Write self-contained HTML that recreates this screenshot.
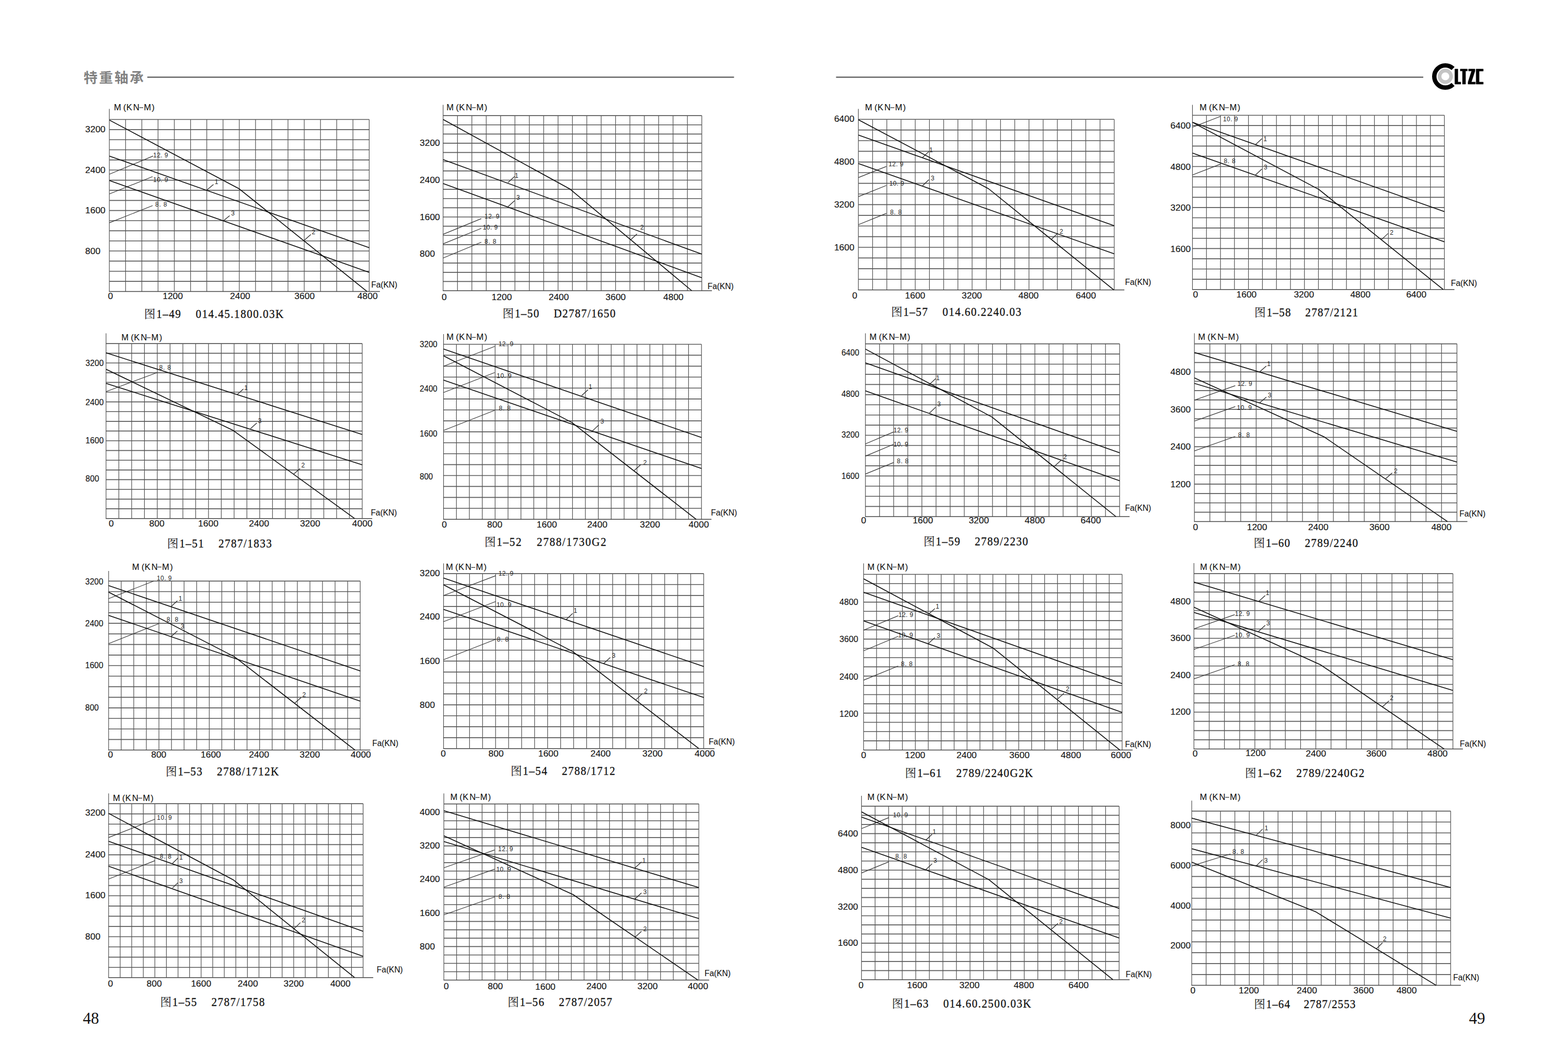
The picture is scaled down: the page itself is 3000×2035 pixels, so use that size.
<!DOCTYPE html>
<html lang="zh"><head><meta charset="utf-8"><title>特重轴承 48-49</title><style>
html,body{margin:0;padding:0;background:#fff}
body{width:3000px;height:2035px;overflow:hidden}
svg{display:block;font-family:"Liberation Sans",sans-serif}
.h{stroke:#5a5a5a;stroke-width:1.65;fill:none}
.v{stroke:#565656;stroke-width:1.25;fill:none}
.a{stroke:#444;stroke-width:1.5;fill:none}
.t{stroke:#333;stroke-width:1.15;fill:none}
.q{stroke:#2a2a2a;stroke-width:1.3;fill:none}
.y{stroke:#4a4a4a;stroke-width:1.15;fill:none}
.c{stroke:#0a0a0a;stroke-width:1.6;fill:none;stroke-linejoin:round}
text{white-space:pre}
.l{font-size:16.5px;fill:#111;stroke:#111;stroke-width:.12}
.g{}
.s{font-size:12px;fill:#222}
.m{text-anchor:middle}
.d{stroke:#222;stroke-width:1.2;fill:none}
.k{font-family:"Liberation Serif",serif;font-size:23.5px;fill:#111;stroke:#111;stroke-width:.3}
.p{font-family:"Liberation Serif",serif;font-size:31px;fill:#111}
.z{font-family:"Liberation Serif","Noto Serif CJK SC",serif;font-size:21.6px;fill:#111}
.hd{font-family:"Liberation Sans","Noto Sans CJK SC",sans-serif;font-size:26.6px;font-weight:bold;fill:#828282;letter-spacing:2.8px}
</style></head><body>
<svg width="3000" height="2035" viewBox="0 0 3000 2035">
<text class="hd" x="160.1" y="157.9">特重轴承</text>
<path d="M281.8 147.6H1404.4M1599.6 147.6H2723.1" stroke="#5a5a5a" stroke-width="2.3" fill="none"/>
<circle cx="2765.3" cy="146" r="11" fill="none" stroke="#c4c4c4" stroke-width="6.8"/>
<path d="M2780.1 131.1A21.2 21.2 0 1 0 2780.1 161.6" fill="none" stroke="#000" stroke-width="8.4"/>
<polygon fill="#000" stroke="#000" stroke-width="0.6" stroke-linejoin="round" points="2783.5,132 2789.3,132 2789.3,156.9 2794.9,156.9 2794.9,160.9 2783.5,160.9"/>
<polygon fill="#000" stroke="#000" stroke-width="0.6" stroke-linejoin="round" points="2793.9,132 2807.4,132 2807.4,135.7 2804,135.7 2804,160.9 2798.1,160.9 2798.1,135.7 2793.9,135.7"/>
<polygon fill="#000" stroke="#000" stroke-width="0.6" stroke-linejoin="round" points="2809.8,132 2822,132 2822,135.8 2815.1,156.9 2822.8,156.9 2822.8,160.9 2808.8,160.9 2808.8,157.1 2815.6,135.8 2809.8,135.8"/>
<polygon fill="#000" stroke="#000" stroke-width="0.6" stroke-linejoin="round" points="2824.2,132 2837.9,132 2837.9,136 2830,136 2830,157 2837.9,157 2837.9,160.9 2824.2,160.9"/>
<g>
<path class="h" d="M209.2 228.5H706.4M209.2 247.8H706.4M209.2 267.2H706.4M209.2 286.5H706.4M209.2 305.9H706.4M209.2 325.2H706.4M209.2 344.6H706.4M209.2 363.9H706.4M209.2 383.3H706.4M209.2 402.6H706.4M209.2 422H706.4M209.2 441.3H706.4M209.2 460.7H706.4M209.2 480H706.4M209.2 499.4H706.4M209.2 518.7H706.4M209.2 538.1H706.4"/>
<path class="v" d="M240.3 228.5V557.4M271.4 228.5V557.4M302.4 228.5V557.4M333.5 228.5V557.4M364.6 228.5V557.4M395.6 228.5V557.4M426.7 228.5V557.4M457.8 228.5V557.4M488.9 228.5V557.4M519.9 228.5V557.4M551 228.5V557.4M582.1 228.5V557.4M613.2 228.5V557.4M644.2 228.5V557.4M675.3 228.5V557.4M706.4 228.5V557.4"/>
<path class="y" d="M209.2 208.2V557.4"/>
<path class="a" d="M208.6 557.4H726.9"/>
<path class="t" d="M209.2 333.3L292.9 298.4M209.2 371L292 337.8M209.2 426.1L292 393.2"/>
<path class="q" d="M395.7 363.5L408.5 352.7M426.8 422.7L439.4 412.4M581.9 459.8L594.7 448.4"/>
<polyline class="c" points="209.2,229.6 457.9,361.3 702.1,557.4"/>
<polyline class="c" points="209.2,298.4 706.4,473.8"/>
<polyline class="c" points="209.2,345.3 706.4,520.9"/>
<text class="l" x="217.9" y="211" dx="0 4.2 0.5 2">M(KN</text>
<path class="d" d="M266.5 205.9h7.5"/>
<text class="l" x="275.2" y="211" dx="0 1.4">M)</text>
<text class="l" lengthAdjust="spacingAndGlyphs" x="163" y="252.6" textLength="38.8">3200</text>
<text class="l" lengthAdjust="spacingAndGlyphs" x="163" y="330.6" textLength="38.8">2400</text>
<text class="l" lengthAdjust="spacingAndGlyphs" x="163" y="408" textLength="38.8">1600</text>
<text class="l" lengthAdjust="spacingAndGlyphs" x="163" y="485.9" textLength="29.1">800</text>
<text class="l" lengthAdjust="spacingAndGlyphs" x="206.6" y="572.1" textLength="9.7">0</text>
<text class="l" lengthAdjust="spacingAndGlyphs" x="311.2" y="572.1" textLength="38.8">1200</text>
<text class="l" lengthAdjust="spacingAndGlyphs" x="440" y="572.1" textLength="38.8">2400</text>
<text class="l" lengthAdjust="spacingAndGlyphs" x="563.3" y="572.1" textLength="38.8">3600</text>
<text class="l" lengthAdjust="spacingAndGlyphs" x="683.8" y="572.1" textLength="38.8">4800</text>
<text class="l" lengthAdjust="spacingAndGlyphs" x="710.2" y="549.9" textLength="50">Fa(KN)</text>
<text class="s" x="293.1" y="300.7" textLength="28.4">12. 9</text>
<text class="s" x="293.1" y="348.4" textLength="28.4">10. 9</text>
<text class="s" x="297.1" y="395.2" textLength="22.3">8. 8</text>
<text class="s m" x="414.2" y="351.6">1</text>
<text class="s m" x="445.7" y="412.1">3</text>
<text class="s m" x="599.9" y="447.5">2</text>
<text class="z" x="275.8" y="608.1">图</text>
<text class="k" transform="translate(299.2 608.1) scale(0.9 1)" textLength="270.2">1–49    014.45.1800.03K</text>
</g>
<g>
<path class="h" d="M847.8 221.1H1342.7M847.8 238.7H1342.7M847.8 256.3H1342.7M847.8 273.9H1342.7M847.8 291.6H1342.7M847.8 309.2H1342.7M847.8 326.8H1342.7M847.8 344.5H1342.7M847.8 362.1H1342.7M847.8 379.7H1342.7M847.8 397.4H1342.7M847.8 415H1342.7M847.8 432.6H1342.7M847.8 450.2H1342.7M847.8 467.9H1342.7M847.8 485.5H1342.7M847.8 503.1H1342.7M847.8 520.8H1342.7M847.8 538.4H1342.7"/>
<path class="v" d="M875.3 221.1V556M902.8 221.1V556M930.3 221.1V556M957.8 221.1V556M985.2 221.1V556M1012.7 221.1V556M1040.2 221.1V556M1067.7 221.1V556M1095.2 221.1V556M1122.7 221.1V556M1150.2 221.1V556M1177.7 221.1V556M1205.2 221.1V556M1232.7 221.1V556M1260.2 221.1V556M1287.7 221.1V556M1315.2 221.1V556M1342.7 221.1V556"/>
<path class="y" d="M847.8 200.5V556"/>
<path class="a" d="M847.2 556H1362.1"/>
<path class="t" d="M847.8 448.1L920.9 418.1M847.8 466.4L920.9 436.7M847.8 493.5L920.9 463.2"/>
<path class="q" d="M972 349L984.6 337.6M972 395.2L984.6 383.8M1206.2 458.9L1218.7 447.5"/>
<polyline class="c" points="847.8,228.5 1090.8,361.8 1323.5,556"/>
<polyline class="c" points="847.8,305.3 1342.7,486.1"/>
<polyline class="c" points="847.8,351 1342.7,531.2"/>
<text class="l" x="854.2" y="211" dx="0 4.2 0.5 2">M(KN</text>
<path class="d" d="M902.8 205.9h7.5"/>
<text class="l" x="911.5" y="211" dx="0 1.4">M)</text>
<text class="l" lengthAdjust="spacingAndGlyphs" x="803" y="278.9" textLength="38.8">3200</text>
<text class="l" lengthAdjust="spacingAndGlyphs" x="803" y="350" textLength="38.8">2400</text>
<text class="l" lengthAdjust="spacingAndGlyphs" x="803" y="420.5" textLength="38.8">1600</text>
<text class="l" lengthAdjust="spacingAndGlyphs" x="803" y="491.1" textLength="29.1">800</text>
<text class="l" lengthAdjust="spacingAndGlyphs" x="844.9" y="574.4" textLength="9.7">0</text>
<text class="l" lengthAdjust="spacingAndGlyphs" x="940.6" y="574.4" textLength="38.8">1200</text>
<text class="l" lengthAdjust="spacingAndGlyphs" x="1049.7" y="574.4" textLength="38.8">2400</text>
<text class="l" lengthAdjust="spacingAndGlyphs" x="1158.5" y="574.4" textLength="38.8">3600</text>
<text class="l" lengthAdjust="spacingAndGlyphs" x="1269" y="574.4" textLength="38.8">4800</text>
<text class="l" lengthAdjust="spacingAndGlyphs" x="1353.7" y="553.3" textLength="50">Fa(KN)</text>
<text class="s" x="927.1" y="417.8" textLength="28.4">12. 9</text>
<text class="s" x="923.7" y="438.7" textLength="28.4">10. 9</text>
<text class="s" x="927.1" y="465.8" textLength="22.3">8. 8</text>
<text class="s m" x="988.3" y="339.6">1</text>
<text class="s m" x="991.4" y="382.4">3</text>
<text class="s m" x="1228.4" y="439.2">2</text>
<text class="z" x="961.5" y="606.7">图</text>
<text class="k" transform="translate(984.9 606.7) scale(0.9 1)" textLength="214.1">1–50    D2787/1650</text>
</g>
<g>
<path class="h" d="M202.9 657.1H693M202.9 675.6H693M202.9 694.2H693M202.9 712.8H693M202.9 731.4H693M202.9 750H693M202.9 768.6H693M202.9 787.2H693M202.9 805.8H693M202.9 824.4H693M202.9 843H693M202.9 861.6H693M202.9 880.2H693M202.9 898.8H693M202.9 917.4H693M202.9 936H693M202.9 954.6H693M202.9 973.1H693"/>
<path class="v" d="M227.4 657.1V991.7M251.9 657.1V991.7M276.4 657.1V991.7M300.9 657.1V991.7M325.4 657.1V991.7M349.9 657.1V991.7M374.4 657.1V991.7M398.9 657.1V991.7M423.4 657.1V991.7M447.9 657.1V991.7M472.4 657.1V991.7M496.9 657.1V991.7M521.4 657.1V991.7M545.9 657.1V991.7M570.5 657.1V991.7M595 657.1V991.7M619.5 657.1V991.7M644 657.1V991.7M668.5 657.1V991.7M693 657.1V991.7"/>
<path class="y" d="M202.9 637.6V991.7"/>
<path class="a" d="M202.3 991.7H712.1"/>
<path class="t" d="M202.9 749L300.9 712.5"/>
<path class="q" d="M453.7 754.7L465.6 743.9M479.4 819.8L491.3 809M562.2 906.6L574.2 896.1"/>
<polyline class="c" points="202.9,674.8 693,831"/>
<polyline class="c" points="202.9,706.2 446.2,823.3 678.4,991.7"/>
<polyline class="c" points="202.9,733.3 693,888.9"/>
<text class="l" x="232.2" y="651" dx="0 4.2 0.5 2">M(KN</text>
<path class="d" d="M280.8 645.9h7.5"/>
<text class="l" x="289.5" y="651" dx="0 1.4">M)</text>
<text class="l" lengthAdjust="spacingAndGlyphs" x="163.6" y="700.3" textLength="34.8">3200</text>
<text class="l" lengthAdjust="spacingAndGlyphs" x="163.6" y="774.6" textLength="34.8">2400</text>
<text class="l" lengthAdjust="spacingAndGlyphs" x="163.6" y="848.2" textLength="34.8">1600</text>
<text class="l" lengthAdjust="spacingAndGlyphs" x="163.6" y="921.1" textLength="26.1">800</text>
<text class="l" lengthAdjust="spacingAndGlyphs" x="208.1" y="1007.3" textLength="9.7">0</text>
<text class="l" lengthAdjust="spacingAndGlyphs" x="285.5" y="1007.3" textLength="29.1">800</text>
<text class="l" lengthAdjust="spacingAndGlyphs" x="379.1" y="1007.3" textLength="38.8">1600</text>
<text class="l" lengthAdjust="spacingAndGlyphs" x="476.2" y="1007.3" textLength="38.8">2400</text>
<text class="l" lengthAdjust="spacingAndGlyphs" x="573.9" y="1007.3" textLength="38.8">3200</text>
<text class="l" lengthAdjust="spacingAndGlyphs" x="673.8" y="1007.3" textLength="38.8">4000</text>
<text class="l" lengthAdjust="spacingAndGlyphs" x="709.4" y="985.6" textLength="50">Fa(KN)</text>
<text class="s" x="304.6" y="706.5" textLength="22.3">8. 8</text>
<text class="s m" x="470.5" y="745.9">1</text>
<text class="s m" x="497.1" y="808.7">3</text>
<text class="s m" x="579.9" y="894.4">2</text>
<text class="z" x="319.8" y="1047.3">图</text>
<text class="k" transform="translate(343.2 1047.3) scale(0.9 1)" textLength="196.3">1–51    2787/1833</text>
</g>
<g>
<path class="h" d="M848.6 658.5H1342.1M848.6 679.4H1342.1M848.6 700.3H1342.1M848.6 721.2H1342.1M848.6 742.2H1342.1M848.6 763.1H1342.1M848.6 784H1342.1M848.6 804.9H1342.1M848.6 825.8H1342.1M848.6 846.7H1342.1M848.6 867.7H1342.1M848.6 888.6H1342.1M848.6 909.5H1342.1M848.6 930.4H1342.1M848.6 951.3H1342.1M848.6 972.2H1342.1"/>
<path class="v" d="M873.3 658.5V993.2M898 658.5V993.2M922.7 658.5V993.2M947.3 658.5V993.2M972 658.5V993.2M996.7 658.5V993.2M1021.3 658.5V993.2M1046 658.5V993.2M1070.7 658.5V993.2M1095.4 658.5V993.2M1120 658.5V993.2M1144.7 658.5V993.2M1169.4 658.5V993.2M1194.1 658.5V993.2M1218.7 658.5V993.2M1243.4 658.5V993.2M1268.1 658.5V993.2M1292.8 658.5V993.2M1317.4 658.5V993.2M1342.1 658.5V993.2"/>
<path class="y" d="M848.6 639.1V993.2"/>
<path class="a" d="M848 993.2H1361.2"/>
<path class="t" d="M848.6 700.5L946.6 662.5M848.6 750.7L946.6 712.5M848.6 823.3L946.6 784.7"/>
<path class="q" d="M1112.8 756.7L1125.1 745.3M1133.6 824.1L1145.6 812.7M1213.6 899.8L1225.6 888.9"/>
<polyline class="c" points="848.6,667.6 1342.1,836.7"/>
<polyline class="c" points="848.6,680.5 1094.2,808.1 1331.8,993.2"/>
<polyline class="c" points="848.6,727 1342.1,896.1"/>
<text class="l" x="854.2" y="650.4" dx="0 4.2 0.5 2">M(KN</text>
<path class="d" d="M902.8 645.3h7.5"/>
<text class="l" x="911.5" y="650.4" dx="0 1.4">M)</text>
<text class="l" lengthAdjust="spacingAndGlyphs" x="803" y="663.5" textLength="33.8">3200</text>
<text class="l" lengthAdjust="spacingAndGlyphs" x="803" y="749.2" textLength="33.8">2400</text>
<text class="l" lengthAdjust="spacingAndGlyphs" x="803" y="834.8" textLength="33.8">1600</text>
<text class="l" lengthAdjust="spacingAndGlyphs" x="803" y="916.8" textLength="25.3">800</text>
<text class="l" lengthAdjust="spacingAndGlyphs" x="845.2" y="1009.3" textLength="9.7">0</text>
<text class="l" lengthAdjust="spacingAndGlyphs" x="932" y="1009.3" textLength="29.1">800</text>
<text class="l" lengthAdjust="spacingAndGlyphs" x="1026.8" y="1009.3" textLength="38.8">1600</text>
<text class="l" lengthAdjust="spacingAndGlyphs" x="1123.4" y="1009.3" textLength="38.8">2400</text>
<text class="l" lengthAdjust="spacingAndGlyphs" x="1224.2" y="1009.3" textLength="38.8">3200</text>
<text class="l" lengthAdjust="spacingAndGlyphs" x="1317.6" y="1009.3" textLength="38.8">4000</text>
<text class="l" lengthAdjust="spacingAndGlyphs" x="1360.2" y="985.6" textLength="50">Fa(KN)</text>
<text class="s" x="953.7" y="661.6" textLength="28.4">12. 9</text>
<text class="s" x="950.3" y="723" textLength="28.4">10. 9</text>
<text class="s" x="954.6" y="785.3" textLength="22.3">8. 8</text>
<text class="s m" x="1129.6" y="743.9">1</text>
<text class="s m" x="1152.2" y="809.5">3</text>
<text class="s m" x="1234.2" y="888.6">2</text>
<text class="z" x="927" y="1043.8">图</text>
<text class="k" transform="translate(950.3 1043.8) scale(0.9 1)" textLength="232.8">1–52    2788/1730G2</text>
</g>
<g>
<path class="h" d="M207.8 1111.3H689.2M207.8 1131.5H689.2M207.8 1151.7H689.2M207.8 1171.9H689.2M207.8 1192.1H689.2M207.8 1212.4H689.2M207.8 1232.6H689.2M207.8 1252.8H689.2M207.8 1273H689.2M207.8 1293.2H689.2M207.8 1313.4H689.2M207.8 1333.6H689.2M207.8 1353.8H689.2M207.8 1374H689.2M207.8 1394.2H689.2M207.8 1414.4H689.2"/>
<path class="v" d="M231.9 1111.3V1434.6M255.9 1111.3V1434.6M280 1111.3V1434.6M304.1 1111.3V1434.6M328.1 1111.3V1434.6M352.2 1111.3V1434.6M376.3 1111.3V1434.6M400.4 1111.3V1434.6M424.4 1111.3V1434.6M448.5 1111.3V1434.6M472.6 1111.3V1434.6M496.7 1111.3V1434.6M520.7 1111.3V1434.6M544.8 1111.3V1434.6M568.9 1111.3V1434.6M593 1111.3V1434.6M617 1111.3V1434.6M641.1 1111.3V1434.6M665.2 1111.3V1434.6M689.2 1111.3V1434.6"/>
<path class="y" d="M207.8 1091.9V1434.6"/>
<path class="a" d="M207.2 1434.6H708.4"/>
<path class="t" d="M207.8 1145L294.3 1111.3M207.8 1231L304 1192.7"/>
<path class="q" d="M328 1159.6L339.4 1149M328 1217L339.4 1206.7M564.2 1344.6L576.2 1334.1"/>
<polyline class="c" points="207.8,1119.9 689.2,1283.2"/>
<polyline class="c" points="207.8,1132.5 448.5,1256.1 679.3,1434.6"/>
<polyline class="c" points="207.8,1177 689.2,1340.9"/>
<text class="l" x="252.8" y="1089.6" dx="0 4.2 0.5 2">M(KN</text>
<path class="d" d="M301.4 1084.5h7.5"/>
<text class="l" x="310.1" y="1089.6" dx="0 1.4">M)</text>
<text class="l" lengthAdjust="spacingAndGlyphs" x="163" y="1117.5" textLength="34.6">3200</text>
<text class="l" lengthAdjust="spacingAndGlyphs" x="163" y="1197.7" textLength="34.6">2400</text>
<text class="l" lengthAdjust="spacingAndGlyphs" x="163" y="1278.2" textLength="34.6">1600</text>
<text class="l" lengthAdjust="spacingAndGlyphs" x="163" y="1358.8" textLength="26">800</text>
<text class="l" lengthAdjust="spacingAndGlyphs" x="206.6" y="1449.3" textLength="9.7">0</text>
<text class="l" lengthAdjust="spacingAndGlyphs" x="289.2" y="1449.3" textLength="29.1">800</text>
<text class="l" lengthAdjust="spacingAndGlyphs" x="384" y="1449.3" textLength="38.8">1600</text>
<text class="l" lengthAdjust="spacingAndGlyphs" x="476.2" y="1449.3" textLength="38.8">2400</text>
<text class="l" lengthAdjust="spacingAndGlyphs" x="573.3" y="1449.3" textLength="38.8">3200</text>
<text class="l" lengthAdjust="spacingAndGlyphs" x="671" y="1449.3" textLength="38.8">4000</text>
<text class="l" lengthAdjust="spacingAndGlyphs" x="712.2" y="1427" textLength="50">Fa(KN)</text>
<text class="s" x="300" y="1109.6" textLength="28.4">10. 9</text>
<text class="s" x="318.8" y="1188.7" textLength="22.3">8. 8</text>
<text class="s m" x="345.1" y="1148.7">1</text>
<text class="s m" x="349.1" y="1202.1">3</text>
<text class="s m" x="581.9" y="1332.9">2</text>
<text class="z" x="316.9" y="1483">图</text>
<text class="k" transform="translate(340.3 1483) scale(0.9 1)" textLength="214.4">1–53    2788/1712K</text>
</g>
<g>
<path class="h" d="M848.6 1097.1H1346.4M848.6 1118H1346.4M848.6 1138.9H1346.4M848.6 1159.8H1346.4M848.6 1180.7H1346.4M848.6 1201.6H1346.4M848.6 1222.6H1346.4M848.6 1243.5H1346.4M848.6 1264.4H1346.4M848.6 1285.3H1346.4M848.6 1306.2H1346.4M848.6 1327.1H1346.4M848.6 1348.1H1346.4M848.6 1369H1346.4M848.6 1389.9H1346.4M848.6 1410.8H1346.4"/>
<path class="v" d="M873.5 1097.1V1431.7M898.4 1097.1V1431.7M923.3 1097.1V1431.7M948.2 1097.1V1431.7M973.1 1097.1V1431.7M998 1097.1V1431.7M1022.8 1097.1V1431.7M1047.7 1097.1V1431.7M1072.6 1097.1V1431.7M1097.5 1097.1V1431.7M1122.4 1097.1V1431.7M1147.3 1097.1V1431.7M1172.2 1097.1V1431.7M1197.1 1097.1V1431.7M1221.9 1097.1V1431.7M1246.8 1097.1V1431.7M1271.7 1097.1V1431.7M1296.6 1097.1V1431.7M1321.5 1097.1V1431.7M1346.4 1097.1V1431.7"/>
<path class="y" d="M848.6 1077.6V1431.7"/>
<path class="a" d="M848 1431.7H1366.9"/>
<path class="t" d="M848.6 1139L948.3 1101.1M848.6 1189L948.3 1150.5M848.6 1261.8L948.3 1222.7"/>
<path class="q" d="M1083.4 1184.7L1095.7 1173.3M1155.1 1269L1167.6 1257.5M1217 1338.1L1229 1326.6"/>
<polyline class="c" points="848.6,1105.6 1346.4,1274.7"/>
<polyline class="c" points="848.6,1118.5 1095.7,1246.1 1337,1431.7"/>
<polyline class="c" points="848.6,1165.6 1346.4,1334.1"/>
<text class="l" x="853.1" y="1090.4" dx="0 4.2 0.5 2">M(KN</text>
<path class="d" d="M901.7 1085.3h7.5"/>
<text class="l" x="910.4" y="1090.4" dx="0 1.4">M)</text>
<text class="l" lengthAdjust="spacingAndGlyphs" x="803" y="1102.1" textLength="38.8">3200</text>
<text class="l" lengthAdjust="spacingAndGlyphs" x="803" y="1185.4" textLength="38.8">2400</text>
<text class="l" lengthAdjust="spacingAndGlyphs" x="803" y="1269.7" textLength="38.8">1600</text>
<text class="l" lengthAdjust="spacingAndGlyphs" x="803" y="1353.9" textLength="29.1">800</text>
<text class="l" lengthAdjust="spacingAndGlyphs" x="843.2" y="1447.3" textLength="9.7">0</text>
<text class="l" lengthAdjust="spacingAndGlyphs" x="934.6" y="1447.3" textLength="29.1">800</text>
<text class="l" lengthAdjust="spacingAndGlyphs" x="1029.7" y="1447.3" textLength="38.8">1600</text>
<text class="l" lengthAdjust="spacingAndGlyphs" x="1129.7" y="1447.3" textLength="38.8">2400</text>
<text class="l" lengthAdjust="spacingAndGlyphs" x="1229" y="1447.3" textLength="38.8">3200</text>
<text class="l" lengthAdjust="spacingAndGlyphs" x="1329" y="1447.3" textLength="38.8">4000</text>
<text class="l" lengthAdjust="spacingAndGlyphs" x="1355.9" y="1424.2" textLength="50">Fa(KN)</text>
<text class="s" x="953.7" y="1100.8" textLength="28.4">12. 9</text>
<text class="s" x="950" y="1161" textLength="28.4">10. 9</text>
<text class="s" x="950.8" y="1226.7" textLength="22.3">8. 8</text>
<text class="s m" x="1100.8" y="1172.4">1</text>
<text class="s m" x="1174.2" y="1258.1">3</text>
<text class="s m" x="1235.6" y="1325.8">2</text>
<text class="z" x="976.9" y="1482.4">图</text>
<text class="k" transform="translate(1000.3 1482.4) scale(0.9 1)" textLength="196">1–54    2788/1712</text>
</g>
<g>
<path class="h" d="M207.8 1537.1H694.7M207.8 1556.6H694.7M207.8 1576.2H694.7M207.8 1595.8H694.7M207.8 1615.3H694.7M207.8 1634.9H694.7M207.8 1654.5H694.7M207.8 1674H694.7M207.8 1693.6H694.7M207.8 1713.2H694.7M207.8 1732.8H694.7M207.8 1752.3H694.7M207.8 1771.9H694.7M207.8 1791.5H694.7M207.8 1811H694.7M207.8 1830.6H694.7M207.8 1850.2H694.7"/>
<path class="v" d="M229.9 1537.1V1869.7M252 1537.1V1869.7M274.2 1537.1V1869.7M296.3 1537.1V1869.7M318.4 1537.1V1869.7M340.6 1537.1V1869.7M362.7 1537.1V1869.7M384.8 1537.1V1869.7M407 1537.1V1869.7M429.1 1537.1V1869.7M451.2 1537.1V1869.7M473.4 1537.1V1869.7M495.5 1537.1V1869.7M517.6 1537.1V1869.7M539.8 1537.1V1869.7M561.9 1537.1V1869.7M584 1537.1V1869.7M606.1 1537.1V1869.7M628.3 1537.1V1869.7M650.4 1537.1V1869.7M672.5 1537.1V1869.7M694.7 1537.1V1869.7"/>
<path class="y" d="M207.8 1517.6V1869.7"/>
<path class="a" d="M207.2 1869.7H714.1"/>
<path class="t" d="M207.8 1601.9L296.3 1566.8M207.8 1681.3L296.3 1646.1"/>
<path class="q" d="M330 1651.3L340.6 1641M330 1698.4L340.6 1688.1M562.7 1776.1L574.7 1764.6"/>
<polyline class="c" points="207.8,1555.6 446.2,1682.7 678.4,1869.7"/>
<polyline class="c" points="207.8,1609 694.7,1781.2"/>
<polyline class="c" points="207.8,1656.7 694.7,1828.9"/>
<text class="l" x="215.9" y="1531.6" dx="0 4.2 0.5 2">M(KN</text>
<path class="d" d="M264.5 1526.5h7.5"/>
<text class="l" x="273.2" y="1531.6" dx="0 1.4">M)</text>
<text class="l" lengthAdjust="spacingAndGlyphs" x="163" y="1560.3" textLength="38.8">3200</text>
<text class="l" lengthAdjust="spacingAndGlyphs" x="163" y="1639.7" textLength="38.8">2400</text>
<text class="l" lengthAdjust="spacingAndGlyphs" x="163" y="1718.2" textLength="38.8">1600</text>
<text class="l" lengthAdjust="spacingAndGlyphs" x="163" y="1797.3" textLength="29.1">800</text>
<text class="l" lengthAdjust="spacingAndGlyphs" x="206.6" y="1886.7" textLength="9.7">0</text>
<text class="l" lengthAdjust="spacingAndGlyphs" x="280.6" y="1886.7" textLength="29.1">800</text>
<text class="l" lengthAdjust="spacingAndGlyphs" x="365.4" y="1886.7" textLength="38.8">1600</text>
<text class="l" lengthAdjust="spacingAndGlyphs" x="454.8" y="1886.7" textLength="38.8">2400</text>
<text class="l" lengthAdjust="spacingAndGlyphs" x="542.5" y="1886.7" textLength="38.8">3200</text>
<text class="l" lengthAdjust="spacingAndGlyphs" x="631.9" y="1886.7" textLength="38.8">4000</text>
<text class="l" lengthAdjust="spacingAndGlyphs" x="720.8" y="1859.9" textLength="50">Fa(KN)</text>
<text class="s" x="300.3" y="1567.9" textLength="28.4">10. 9</text>
<text class="s" x="305.7" y="1642.1" textLength="22.3">8. 8</text>
<text class="s m" x="346.3" y="1643.6">1</text>
<text class="s m" x="346.3" y="1688.7">3</text>
<text class="s m" x="580.7" y="1764.4">2</text>
<text class="z" x="306.4" y="1923.8">图</text>
<text class="k" transform="translate(329.8 1923.8) scale(0.9 1)" textLength="196">1–55    2787/1758</text>
</g>
<g>
<path class="h" d="M849.2 1537.6H1337M849.2 1553.7H1337M849.2 1569.7H1337M849.2 1585.8H1337M849.2 1601.8H1337M849.2 1617.9H1337M849.2 1633.9H1337M849.2 1649.9H1337M849.2 1666H1337M849.2 1682H1337M849.2 1698.1H1337M849.2 1714.1H1337M849.2 1730.2H1337M849.2 1746.2H1337M849.2 1762.3H1337M849.2 1778.3H1337M849.2 1794.4H1337M849.2 1810.4H1337M849.2 1826.5H1337M849.2 1842.5H1337M849.2 1858.5H1337"/>
<path class="v" d="M873.6 1537.6V1874.6M898 1537.6V1874.6M922.4 1537.6V1874.6M946.8 1537.6V1874.6M971.1 1537.6V1874.6M995.5 1537.6V1874.6M1019.9 1537.6V1874.6M1044.3 1537.6V1874.6M1068.7 1537.6V1874.6M1093.1 1537.6V1874.6M1117.5 1537.6V1874.6M1141.9 1537.6V1874.6M1166.2 1537.6V1874.6M1190.6 1537.6V1874.6M1215 1537.6V1874.6M1239.4 1537.6V1874.6M1263.8 1537.6V1874.6M1288.2 1537.6V1874.6M1312.6 1537.6V1874.6M1337 1537.6V1874.6"/>
<path class="y" d="M849.2 1517.6V1874.6"/>
<path class="a" d="M848.6 1874.6H1356.9"/>
<path class="t" d="M849.2 1659.8L946.3 1625.6M849.2 1696.7L946.3 1662.4M849.2 1749.8L946.3 1715.5"/>
<path class="q" d="M1215 1659.8L1227.3 1648.4M1215 1719.2L1227.3 1707.8M1215 1792.6L1227.3 1781.2"/>
<polyline class="c" points="849.2,1550.5 1337,1697.5"/>
<polyline class="c" points="849.2,1598.4 1096.5,1711 1335.5,1874.6"/>
<polyline class="c" points="849.2,1609.6 1337,1756.7"/>
<text class="l" x="861.4" y="1530.4" dx="0 4.2 0.5 2">M(KN</text>
<path class="d" d="M910 1525.3h7.5"/>
<text class="l" x="918.7" y="1530.4" dx="0 1.4">M)</text>
<text class="l" lengthAdjust="spacingAndGlyphs" x="803" y="1558.9" textLength="38.8">4000</text>
<text class="l" lengthAdjust="spacingAndGlyphs" x="803" y="1623.2" textLength="38.8">3200</text>
<text class="l" lengthAdjust="spacingAndGlyphs" x="803" y="1687.4" textLength="38.8">2400</text>
<text class="l" lengthAdjust="spacingAndGlyphs" x="803" y="1751.7" textLength="38.8">1600</text>
<text class="l" lengthAdjust="spacingAndGlyphs" x="803" y="1815.9" textLength="29.1">800</text>
<text class="l" lengthAdjust="spacingAndGlyphs" x="848.9" y="1891.5" textLength="9.7">0</text>
<text class="l" lengthAdjust="spacingAndGlyphs" x="933.2" y="1891.5" textLength="29.1">800</text>
<text class="l" lengthAdjust="spacingAndGlyphs" x="1024" y="1893" textLength="38.8">1600</text>
<text class="l" lengthAdjust="spacingAndGlyphs" x="1121.9" y="1891.5" textLength="38.8">2400</text>
<text class="l" lengthAdjust="spacingAndGlyphs" x="1219.6" y="1891.5" textLength="38.8">3200</text>
<text class="l" lengthAdjust="spacingAndGlyphs" x="1316.1" y="1891.5" textLength="38.8">4000</text>
<text class="l" lengthAdjust="spacingAndGlyphs" x="1348" y="1866.5" textLength="50">Fa(KN)</text>
<text class="s" x="953.1" y="1627.9" textLength="28.4">12. 9</text>
<text class="s" x="949.4" y="1667.3" textLength="28.4">10. 9</text>
<text class="s" x="953.7" y="1719.2" textLength="22.3">8. 8</text>
<text class="s m" x="1232.2" y="1650.1">1</text>
<text class="s m" x="1234.2" y="1710.1">3</text>
<text class="s m" x="1234.2" y="1780.9">2</text>
<text class="z" x="971.2" y="1923.8">图</text>
<text class="k" transform="translate(994.6 1923.8) scale(0.9 1)" textLength="196">1–56    2787/2057</text>
</g>
<g>
<path class="h" d="M1642.3 228.2H2131.8M1642.3 248.6H2131.8M1642.3 269H2131.8M1642.3 289.4H2131.8M1642.3 309.8H2131.8M1642.3 330.2H2131.8M1642.3 350.6H2131.8M1642.3 371H2131.8M1642.3 391.4H2131.8M1642.3 411.8H2131.8M1642.3 432.2H2131.8M1642.3 452.6H2131.8M1642.3 473H2131.8M1642.3 493.4H2131.8M1642.3 513.8H2131.8M1642.3 534.2H2131.8"/>
<path class="v" d="M1669.5 228.2V554.6M1696.7 228.2V554.6M1723.9 228.2V554.6M1751.1 228.2V554.6M1778.3 228.2V554.6M1805.5 228.2V554.6M1832.7 228.2V554.6M1859.9 228.2V554.6M1887.1 228.2V554.6M1914.3 228.2V554.6M1941.5 228.2V554.6M1968.7 228.2V554.6M1995.8 228.2V554.6M2023 228.2V554.6M2050.2 228.2V554.6M2077.4 228.2V554.6M2104.6 228.2V554.6M2131.8 228.2V554.6"/>
<path class="y" d="M1642.3 208.2V554.6"/>
<path class="a" d="M1641.7 554.6H2151.2"/>
<path class="t" d="M1642.3 339.6L1695.7 318.4M1642.3 376.1L1695.7 354.7M1642.3 429.8L1695.7 408.1"/>
<path class="q" d="M1765.1 301.3L1777.1 289.9M1765.1 355.3L1777.1 343.8M2011.9 457.5L2023.6 446.1"/>
<polyline class="c" points="1642.3,229 1891.4,361 2131.2,554.6"/>
<polyline class="c" points="1642.3,258.2 2131.8,431.8"/>
<polyline class="c" points="1642.3,312.7 2131.8,485.5"/>
<text class="l" x="1655.1" y="211" dx="0 4.2 0.5 2">M(KN</text>
<path class="d" d="M1703.7 205.9h7.5"/>
<text class="l" x="1712.4" y="211" dx="0 1.4">M)</text>
<text class="l" lengthAdjust="spacingAndGlyphs" x="1595.9" y="232.6" textLength="38.8">6400</text>
<text class="l" lengthAdjust="spacingAndGlyphs" x="1595.9" y="314.9" textLength="38.8">4800</text>
<text class="l" lengthAdjust="spacingAndGlyphs" x="1595.9" y="396.8" textLength="38.8">3200</text>
<text class="l" lengthAdjust="spacingAndGlyphs" x="1595.9" y="478.8" textLength="38.8">1600</text>
<text class="l" lengthAdjust="spacingAndGlyphs" x="1630.4" y="570.7" textLength="9.7">0</text>
<text class="l" lengthAdjust="spacingAndGlyphs" x="1731.5" y="570.7" textLength="38.8">1600</text>
<text class="l" lengthAdjust="spacingAndGlyphs" x="1840" y="570.7" textLength="38.8">3200</text>
<text class="l" lengthAdjust="spacingAndGlyphs" x="1948.5" y="570.7" textLength="38.8">4800</text>
<text class="l" lengthAdjust="spacingAndGlyphs" x="2058.2" y="570.7" textLength="38.8">6400</text>
<text class="l" lengthAdjust="spacingAndGlyphs" x="2152.5" y="545" textLength="50">Fa(KN)</text>
<text class="s" x="1700" y="318.1" textLength="28.4">12. 9</text>
<text class="s" x="1701.4" y="355" textLength="28.4">10. 9</text>
<text class="s" x="1702.9" y="409.5" textLength="22.3">8. 8</text>
<text class="s m" x="1781.4" y="291">1</text>
<text class="s m" x="1784.3" y="345.3">3</text>
<text class="s m" x="2030.7" y="446.7">2</text>
<text class="z" x="1705" y="604.4">图</text>
<text class="k" transform="translate(1728.3 604.4) scale(0.9 1)" textLength="250.6">1–57    014.60.2240.03</text>
</g>
<g>
<path class="h" d="M2281.5 220.5H2763.5M2281.5 240.1H2763.5M2281.5 259.7H2763.5M2281.5 279.3H2763.5M2281.5 298.9H2763.5M2281.5 318.5H2763.5M2281.5 338.1H2763.5M2281.5 357.7H2763.5M2281.5 377.3H2763.5M2281.5 396.9H2763.5M2281.5 416.5H2763.5M2281.5 436.1H2763.5M2281.5 455.7H2763.5M2281.5 475.3H2763.5M2281.5 494.9H2763.5M2281.5 514.5H2763.5M2281.5 534.1H2763.5"/>
<path class="v" d="M2308.3 220.5V553.7M2335.1 220.5V553.7M2361.8 220.5V553.7M2388.6 220.5V553.7M2415.4 220.5V553.7M2442.2 220.5V553.7M2469 220.5V553.7M2495.7 220.5V553.7M2522.5 220.5V553.7M2549.3 220.5V553.7M2576.1 220.5V553.7M2602.9 220.5V553.7M2629.6 220.5V553.7M2656.4 220.5V553.7M2683.2 220.5V553.7M2710 220.5V553.7M2736.7 220.5V553.7M2763.5 220.5V553.7"/>
<path class="y" d="M2281.5 200.5V553.7"/>
<path class="a" d="M2280.9 553.7H2782.7"/>
<path class="t" d="M2281.5 243.3L2335.2 222.5M2281.5 334.7L2335.2 313.9"/>
<path class="q" d="M2402 276.7L2414.3 265.3M2402 334.7L2414.3 323.3M2643.3 458.1L2655.6 446.6"/>
<polyline class="c" points="2281.5,233.9 2763.5,404.7"/>
<polyline class="c" points="2281.5,233.9 2523.4,362.4 2761.2,553.7"/>
<polyline class="c" points="2281.5,292.7 2763.5,462.6"/>
<text class="l" x="2295.1" y="211" dx="0 4.2 0.5 2">M(KN</text>
<path class="d" d="M2343.7 205.9h7.5"/>
<text class="l" x="2352.4" y="211" dx="0 1.4">M)</text>
<text class="l" lengthAdjust="spacingAndGlyphs" x="2239.3" y="246.3" textLength="38.8">6400</text>
<text class="l" lengthAdjust="spacingAndGlyphs" x="2239.3" y="324.6" textLength="38.8">4800</text>
<text class="l" lengthAdjust="spacingAndGlyphs" x="2239.3" y="403.1" textLength="38.8">3200</text>
<text class="l" lengthAdjust="spacingAndGlyphs" x="2239.3" y="481.6" textLength="38.8">1600</text>
<text class="l" lengthAdjust="spacingAndGlyphs" x="2282.4" y="568.7" textLength="9.7">0</text>
<text class="l" lengthAdjust="spacingAndGlyphs" x="2365.5" y="568.7" textLength="38.8">1600</text>
<text class="l" lengthAdjust="spacingAndGlyphs" x="2475.4" y="568.7" textLength="38.8">3200</text>
<text class="l" lengthAdjust="spacingAndGlyphs" x="2583.4" y="568.7" textLength="38.8">4800</text>
<text class="l" lengthAdjust="spacingAndGlyphs" x="2690.4" y="568.7" textLength="38.8">6400</text>
<text class="l" lengthAdjust="spacingAndGlyphs" x="2776" y="547" textLength="50">Fa(KN)</text>
<text class="s" x="2340" y="231.6" textLength="28.4">10. 9</text>
<text class="s" x="2341.4" y="312.1" textLength="22.3">8. 8</text>
<text class="s m" x="2420.6" y="269.6">1</text>
<text class="s m" x="2421.4" y="323.6">3</text>
<text class="s m" x="2662.7" y="449.2">2</text>
<text class="z" x="2400.1" y="605.3">图</text>
<text class="k" transform="translate(2423.5 605.3) scale(0.9 1)" textLength="194.1">1–58    2787/2121</text>
</g>
<g>
<path class="h" d="M1655.8 657.6H2142.1M1655.8 677.1H2142.1M1655.8 696.5H2142.1M1655.8 715.9H2142.1M1655.8 735.4H2142.1M1655.8 754.8H2142.1M1655.8 774.2H2142.1M1655.8 793.7H2142.1M1655.8 813.1H2142.1M1655.8 832.5H2142.1M1655.8 852H2142.1M1655.8 871.4H2142.1M1655.8 890.8H2142.1M1655.8 910.3H2142.1M1655.8 929.7H2142.1M1655.8 949.2H2142.1M1655.8 968.6H2142.1"/>
<path class="v" d="M1682.8 657.6V988M1709.8 657.6V988M1736.8 657.6V988M1763.8 657.6V988M1790.9 657.6V988M1817.9 657.6V988M1844.9 657.6V988M1871.9 657.6V988M1898.9 657.6V988M1925.9 657.6V988M1953 657.6V988M1980 657.6V988M2007 657.6V988M2034 657.6V988M2061 657.6V988M2088.1 657.6V988M2115.1 657.6V988M2142.1 657.6V988"/>
<path class="y" d="M1655.8 637.6V988"/>
<path class="a" d="M1655.2 988H2161.2"/>
<path class="t" d="M1655.8 849L1709.7 826.1M1655.8 872.4L1709.7 849.8M1655.8 906.6L1709.7 884.6"/>
<path class="q" d="M1778 735.6L1790 724.2M1778 790.4L1790 779M2017.6 891.8L2029.9 880.4"/>
<polyline class="c" points="1655.8,667.6 1897.9,797.6 2135,988"/>
<polyline class="c" points="1655.8,693.9 2142.1,866.1"/>
<polyline class="c" points="1655.8,747.6 2142.1,919.5"/>
<text class="l" x="1663.6" y="650.4" dx="0 4.2 0.5 2">M(KN</text>
<path class="d" d="M1712.2 645.3h7.5"/>
<text class="l" x="1720.9" y="650.4" dx="0 1.4">M)</text>
<text class="l" lengthAdjust="spacingAndGlyphs" x="1610.1" y="679.8" textLength="34">6400</text>
<text class="l" lengthAdjust="spacingAndGlyphs" x="1610.1" y="758.9" textLength="34">4800</text>
<text class="l" lengthAdjust="spacingAndGlyphs" x="1610.1" y="837.4" textLength="34">3200</text>
<text class="l" lengthAdjust="spacingAndGlyphs" x="1610.1" y="915.9" textLength="34">1600</text>
<text class="l" lengthAdjust="spacingAndGlyphs" x="1647.5" y="1001" textLength="9.7">0</text>
<text class="l" lengthAdjust="spacingAndGlyphs" x="1746.3" y="1001" textLength="38.8">1600</text>
<text class="l" lengthAdjust="spacingAndGlyphs" x="1853.4" y="1001" textLength="38.8">3200</text>
<text class="l" lengthAdjust="spacingAndGlyphs" x="1960.5" y="1001" textLength="38.8">4800</text>
<text class="l" lengthAdjust="spacingAndGlyphs" x="2067.6" y="1001" textLength="38.8">6400</text>
<text class="l" lengthAdjust="spacingAndGlyphs" x="2152.5" y="976.5" textLength="50">Fa(KN)</text>
<text class="s" x="1709.4" y="826.7" textLength="28.4">12. 9</text>
<text class="s" x="1709.4" y="853.5" textLength="28.4">10. 9</text>
<text class="s" x="1716" y="886.4" textLength="22.3">8. 8</text>
<text class="s m" x="1794.3" y="726.7">1</text>
<text class="s m" x="1796.6" y="777.3">3</text>
<text class="s m" x="2037.9" y="878.1">2</text>
<text class="z" x="1766.9" y="1043">图</text>
<text class="k" transform="translate(1790.3 1043) scale(0.9 1)" textLength="196">1–59    2789/2230</text>
</g>
<g>
<path class="h" d="M2285.2 657.6H2787.5M2285.2 675.5H2787.5M2285.2 693.4H2787.5M2285.2 711.3H2787.5M2285.2 729.2H2787.5M2285.2 747.1H2787.5M2285.2 764.9H2787.5M2285.2 782.8H2787.5M2285.2 800.7H2787.5M2285.2 818.6H2787.5M2285.2 836.5H2787.5M2285.2 854.4H2787.5M2285.2 872.3H2787.5M2285.2 890.1H2787.5M2285.2 908H2787.5M2285.2 925.9H2787.5M2285.2 943.8H2787.5M2285.2 961.7H2787.5M2285.2 979.6H2787.5"/>
<path class="v" d="M2314.8 657.6V997.4M2344.3 657.6V997.4M2373.8 657.6V997.4M2403.4 657.6V997.4M2432.9 657.6V997.4M2462.5 657.6V997.4M2492 657.6V997.4M2521.6 657.6V997.4M2551.1 657.6V997.4M2580.7 657.6V997.4M2610.2 657.6V997.4M2639.8 657.6V997.4M2669.3 657.6V997.4M2698.9 657.6V997.4M2728.4 657.6V997.4M2758 657.6V997.4M2787.5 657.6V997.4"/>
<path class="y" d="M2285.2 637.6V997.4"/>
<path class="a" d="M2284.6 997.4H2807.5"/>
<path class="t" d="M2285.2 765.3L2363.4 737.6M2285.2 805.3L2363.4 777.6M2285.2 862.4L2363.4 834.7"/>
<path class="q" d="M2410 711.3L2422.8 699.9M2410 770.4L2422.8 759.6M2651.3 915.5L2663.6 904.6"/>
<polyline class="c" points="2285.2,674.2 2787.5,825"/>
<polyline class="c" points="2285.2,722.7 2532.8,835.2 2769.2,997.4"/>
<polyline class="c" points="2285.2,733.3 2787.5,883.8"/>
<text class="l" x="2292.2" y="650.4" dx="0 4.2 0.5 2">M(KN</text>
<path class="d" d="M2340.8 645.3h7.5"/>
<text class="l" x="2349.5" y="650.4" dx="0 1.4">M)</text>
<text class="l" lengthAdjust="spacingAndGlyphs" x="2239.3" y="716.9" textLength="38.8">4800</text>
<text class="l" lengthAdjust="spacingAndGlyphs" x="2239.3" y="788.8" textLength="38.8">3600</text>
<text class="l" lengthAdjust="spacingAndGlyphs" x="2239.3" y="860.2" textLength="38.8">2400</text>
<text class="l" lengthAdjust="spacingAndGlyphs" x="2239.3" y="931.6" textLength="38.8">1200</text>
<text class="l" lengthAdjust="spacingAndGlyphs" x="2282.4" y="1014.4" textLength="9.7">0</text>
<text class="l" lengthAdjust="spacingAndGlyphs" x="2385.7" y="1013.5" textLength="38.8">1200</text>
<text class="l" lengthAdjust="spacingAndGlyphs" x="2502.8" y="1014.4" textLength="38.8">2400</text>
<text class="l" lengthAdjust="spacingAndGlyphs" x="2619.9" y="1014.4" textLength="38.8">3600</text>
<text class="l" lengthAdjust="spacingAndGlyphs" x="2738.4" y="1014.4" textLength="38.8">4800</text>
<text class="l" lengthAdjust="spacingAndGlyphs" x="2792.2" y="987.9" textLength="50">Fa(KN)</text>
<text class="s" x="2367.4" y="738.2" textLength="28.4">12. 9</text>
<text class="s" x="2366.6" y="784.4" textLength="28.4">10. 9</text>
<text class="s" x="2368.8" y="835.8" textLength="22.3">8. 8</text>
<text class="s m" x="2427.7" y="700.2">1</text>
<text class="s m" x="2429.1" y="759.6">3</text>
<text class="s m" x="2670.4" y="904.9">2</text>
<text class="z" x="2398.4" y="1045.8">图</text>
<text class="k" transform="translate(2421.7 1045.8) scale(0.9 1)" textLength="196">1–60    2789/2240</text>
</g>
<g>
<path class="h" d="M1652.3 1098.5H2146.9M1652.3 1116.2H2146.9M1652.3 1133.9H2146.9M1652.3 1151.6H2146.9M1652.3 1169.2H2146.9M1652.3 1186.9H2146.9M1652.3 1204.6H2146.9M1652.3 1222.3H2146.9M1652.3 1240H2146.9M1652.3 1257.7H2146.9M1652.3 1275.4H2146.9M1652.3 1293.1H2146.9M1652.3 1310.8H2146.9M1652.3 1328.5H2146.9M1652.3 1346.1H2146.9M1652.3 1363.8H2146.9M1652.3 1381.5H2146.9M1652.3 1399.2H2146.9M1652.3 1416.9H2146.9"/>
<path class="v" d="M1677.1 1098.5V1434.6M1701.8 1098.5V1434.6M1726.5 1098.5V1434.6M1751.3 1098.5V1434.6M1776 1098.5V1434.6M1800.7 1098.5V1434.6M1825.5 1098.5V1434.6M1850.2 1098.5V1434.6M1874.9 1098.5V1434.6M1899.6 1098.5V1434.6M1924.4 1098.5V1434.6M1949.1 1098.5V1434.6M1973.8 1098.5V1434.6M1998.6 1098.5V1434.6M2023.3 1098.5V1434.6M2048 1098.5V1434.6M2072.8 1098.5V1434.6M2097.5 1098.5V1434.6M2122.2 1098.5V1434.6M2146.9 1098.5V1434.6"/>
<path class="y" d="M1652.3 1077.6V1434.6"/>
<path class="a" d="M1651.7 1434.6H2166.9"/>
<path class="t" d="M1652.3 1205.3L1718.6 1177.6M1652.3 1244.7L1718.6 1217M1652.3 1300.9L1718.6 1273.8"/>
<path class="q" d="M1776.6 1174.7L1788.6 1163.9M1776.6 1230.4L1788.6 1219.6M2023.3 1336.9L2035.6 1326.1"/>
<polyline class="c" points="1652.3,1107 1900.5,1239.8 2142.7,1434.6"/>
<polyline class="c" points="1652.3,1132.7 2146.9,1307.5"/>
<polyline class="c" points="1652.3,1187.6 2146.9,1362.6"/>
<text class="l" x="1659.4" y="1089.6" dx="0 4.2 0.5 2">M(KN</text>
<path class="d" d="M1708 1084.5h7.5"/>
<text class="l" x="1716.7" y="1089.6" dx="0 1.4">M)</text>
<text class="l" lengthAdjust="spacingAndGlyphs" x="1605.9" y="1156.9" textLength="36">4800</text>
<text class="l" lengthAdjust="spacingAndGlyphs" x="1605.9" y="1228.3" textLength="36">3600</text>
<text class="l" lengthAdjust="spacingAndGlyphs" x="1605.9" y="1299.7" textLength="36">2400</text>
<text class="l" lengthAdjust="spacingAndGlyphs" x="1605.9" y="1371.1" textLength="36">1200</text>
<text class="l" lengthAdjust="spacingAndGlyphs" x="1647.5" y="1449.5" textLength="9.7">0</text>
<text class="l" lengthAdjust="spacingAndGlyphs" x="1731.5" y="1449.5" textLength="38.8">1200</text>
<text class="l" lengthAdjust="spacingAndGlyphs" x="1830" y="1449.5" textLength="38.8">2400</text>
<text class="l" lengthAdjust="spacingAndGlyphs" x="1931.1" y="1449.5" textLength="38.8">3600</text>
<text class="l" lengthAdjust="spacingAndGlyphs" x="2029.6" y="1449.5" textLength="38.8">4800</text>
<text class="l" lengthAdjust="spacingAndGlyphs" x="2125.3" y="1449.5" textLength="38.8">6000</text>
<text class="l" lengthAdjust="spacingAndGlyphs" x="2152.5" y="1429" textLength="50">Fa(KN)</text>
<text class="s" x="1718.9" y="1180.2" textLength="28.4">12. 9</text>
<text class="s" x="1718.3" y="1218.7" textLength="28.4">10. 9</text>
<text class="s" x="1723.7" y="1274.4" textLength="22.3">8. 8</text>
<text class="s m" x="1793.7" y="1164.4">1</text>
<text class="s m" x="1795.7" y="1220.1">3</text>
<text class="s m" x="2042.7" y="1321.5">2</text>
<text class="z" x="1731.5" y="1485.8">图</text>
<text class="k" transform="translate(1754.9 1485.8) scale(0.9 1)" textLength="245.8">1–61    2789/2240G2K</text>
</g>
<g>
<path class="h" d="M2284.3 1097.1H2779.8M2284.3 1114.7H2779.8M2284.3 1132.4H2779.8M2284.3 1150H2779.8M2284.3 1167.7H2779.8M2284.3 1185.4H2779.8M2284.3 1203H2779.8M2284.3 1220.7H2779.8M2284.3 1238.3H2779.8M2284.3 1256H2779.8M2284.3 1273.7H2779.8M2284.3 1291.3H2779.8M2284.3 1309H2779.8M2284.3 1326.6H2779.8M2284.3 1344.3H2779.8M2284.3 1362H2779.8M2284.3 1379.6H2779.8M2284.3 1397.3H2779.8M2284.3 1414.9H2779.8"/>
<path class="v" d="M2313.5 1097.1V1432.6M2342.6 1097.1V1432.6M2371.8 1097.1V1432.6M2400.9 1097.1V1432.6M2430.1 1097.1V1432.6M2459.2 1097.1V1432.6M2488.4 1097.1V1432.6M2517.5 1097.1V1432.6M2546.6 1097.1V1432.6M2575.8 1097.1V1432.6M2604.9 1097.1V1432.6M2634.1 1097.1V1432.6M2663.2 1097.1V1432.6M2692.4 1097.1V1432.6M2721.5 1097.1V1432.6M2750.7 1097.1V1432.6M2779.8 1097.1V1432.6"/>
<path class="y" d="M2284.3 1077.1V1432.6"/>
<path class="a" d="M2283.7 1432.6H2798.9"/>
<path class="t" d="M2284.3 1202.7L2362.3 1175.6M2284.3 1242.1L2362.3 1215M2284.3 1298.4L2362.3 1271.2"/>
<path class="q" d="M2408 1150.5L2420.6 1139M2408 1207.6L2420.6 1196.1M2645 1351.8L2657.6 1340.4"/>
<polyline class="c" points="2284.3,1113.3 2779.8,1261.8"/>
<polyline class="c" points="2284.3,1161.3 2527.1,1271.8 2763.2,1432.6"/>
<polyline class="c" points="2284.3,1171.3 2779.8,1320.4"/>
<text class="l" x="2295.9" y="1089.6" dx="0 4.2 0.5 2">M(KN</text>
<path class="d" d="M2344.5 1084.5h7.5"/>
<text class="l" x="2353.2" y="1089.6" dx="0 1.4">M)</text>
<text class="l" lengthAdjust="spacingAndGlyphs" x="2239.3" y="1155.5" textLength="38.8">4800</text>
<text class="l" lengthAdjust="spacingAndGlyphs" x="2239.3" y="1226.3" textLength="38.8">3600</text>
<text class="l" lengthAdjust="spacingAndGlyphs" x="2239.3" y="1296.8" textLength="38.8">2400</text>
<text class="l" lengthAdjust="spacingAndGlyphs" x="2239.3" y="1367.3" textLength="38.8">1200</text>
<text class="l" lengthAdjust="spacingAndGlyphs" x="2281.8" y="1446.7" textLength="9.7">0</text>
<text class="l" lengthAdjust="spacingAndGlyphs" x="2382.9" y="1445.8" textLength="38.8">1200</text>
<text class="l" lengthAdjust="spacingAndGlyphs" x="2498.3" y="1446.7" textLength="38.8">2400</text>
<text class="l" lengthAdjust="spacingAndGlyphs" x="2613.9" y="1446.7" textLength="38.8">3600</text>
<text class="l" lengthAdjust="spacingAndGlyphs" x="2731" y="1446.7" textLength="38.8">4800</text>
<text class="l" lengthAdjust="spacingAndGlyphs" x="2793.1" y="1427.9" textLength="50">Fa(KN)</text>
<text class="s" x="2362.8" y="1178.2" textLength="28.4">12. 9</text>
<text class="s" x="2362.8" y="1218.7" textLength="28.4">10. 9</text>
<text class="s" x="2368" y="1274.4" textLength="22.3">8. 8</text>
<text class="s m" x="2425.1" y="1138.2">1</text>
<text class="s m" x="2426" y="1195.9">3</text>
<text class="s m" x="2662.7" y="1338.6">2</text>
<text class="z" x="2382.1" y="1486.1">图</text>
<text class="k" transform="translate(2405.5 1486.1) scale(0.9 1)" textLength="227.7">1–62    2789/2240G2</text>
</g>
<g>
<path class="h" d="M1648.3 1541.9H2141.2M1648.3 1559.4H2141.2M1648.3 1576.8H2141.2M1648.3 1594.3H2141.2M1648.3 1611.8H2141.2M1648.3 1629.2H2141.2M1648.3 1646.7H2141.2M1648.3 1664.2H2141.2M1648.3 1681.6H2141.2M1648.3 1699.1H2141.2M1648.3 1716.6H2141.2M1648.3 1734H2141.2M1648.3 1751.5H2141.2M1648.3 1768.9H2141.2M1648.3 1786.4H2141.2M1648.3 1803.9H2141.2M1648.3 1821.3H2141.2M1648.3 1838.8H2141.2M1648.3 1856.3H2141.2"/>
<path class="v" d="M1674.3 1541.9V1873.7M1700.2 1541.9V1873.7M1726.2 1541.9V1873.7M1752.1 1541.9V1873.7M1778.1 1541.9V1873.7M1804 1541.9V1873.7M1829.9 1541.9V1873.7M1855.9 1541.9V1873.7M1881.8 1541.9V1873.7M1907.8 1541.9V1873.7M1933.7 1541.9V1873.7M1959.6 1541.9V1873.7M1985.6 1541.9V1873.7M2011.5 1541.9V1873.7M2037.5 1541.9V1873.7M2063.4 1541.9V1873.7M2089.4 1541.9V1873.7M2115.3 1541.9V1873.7M2141.2 1541.9V1873.7"/>
<path class="y" d="M1648.3 1521.9V1873.7"/>
<path class="a" d="M1647.7 1873.7H2161.2"/>
<path class="t" d="M1648.3 1584.7L1700.3 1563.9M1648.3 1669.6L1700.3 1648.4"/>
<path class="q" d="M1771.4 1606.7L1783.4 1595.6M1771.4 1663.3L1783.4 1651.9M2011.9 1776.9L2024.2 1766.1"/>
<polyline class="c" points="1648.3,1552.8 1891.9,1682.4 2129.2,1873.7"/>
<polyline class="c" points="1648.3,1562.8 2141.2,1737.5"/>
<polyline class="c" points="1648.3,1620.4 2141.2,1794.1"/>
<text class="l" x="1659.4" y="1530.1" dx="0 4.2 0.5 2">M(KN</text>
<path class="d" d="M1708 1525h7.5"/>
<text class="l" x="1716.7" y="1530.1" dx="0 1.4">M)</text>
<text class="l" lengthAdjust="spacingAndGlyphs" x="1603" y="1599.7" textLength="38.8">6400</text>
<text class="l" lengthAdjust="spacingAndGlyphs" x="1603" y="1669.7" textLength="38.8">4800</text>
<text class="l" lengthAdjust="spacingAndGlyphs" x="1603" y="1739.7" textLength="38.8">3200</text>
<text class="l" lengthAdjust="spacingAndGlyphs" x="1603" y="1809.1" textLength="38.8">1600</text>
<text class="l" lengthAdjust="spacingAndGlyphs" x="1642.4" y="1890.1" textLength="9.7">0</text>
<text class="l" lengthAdjust="spacingAndGlyphs" x="1735.5" y="1889.5" textLength="38.8">1600</text>
<text class="l" lengthAdjust="spacingAndGlyphs" x="1835.4" y="1890.1" textLength="38.8">3200</text>
<text class="l" lengthAdjust="spacingAndGlyphs" x="1939.6" y="1890.1" textLength="38.8">4800</text>
<text class="l" lengthAdjust="spacingAndGlyphs" x="2044.2" y="1890.1" textLength="38.8">6400</text>
<text class="l" lengthAdjust="spacingAndGlyphs" x="2153.7" y="1869.3" textLength="50">Fa(KN)</text>
<text class="s" x="1708.6" y="1563" textLength="28.4">10. 9</text>
<text class="s" x="1712.9" y="1641.6" textLength="22.3">8. 8</text>
<text class="s m" x="1787.7" y="1595">1</text>
<text class="s m" x="1789.4" y="1650.1">3</text>
<text class="s m" x="2029.9" y="1766.7">2</text>
<text class="z" x="1706.4" y="1926.7">图</text>
<text class="k" transform="translate(1729.8 1926.7) scale(0.9 1)" textLength="269.6">1–63    014.60.2500.03K</text>
</g>
<g>
<path class="h" d="M2280.1 1551.3H2775.5M2280.1 1572.2H2775.5M2280.1 1593H2775.5M2280.1 1613.8H2775.5M2280.1 1634.6H2775.5M2280.1 1655.5H2775.5M2280.1 1676.3H2775.5M2280.1 1697.1H2775.5M2280.1 1718H2775.5M2280.1 1738.8H2775.5M2280.1 1759.6H2775.5M2280.1 1780.4H2775.5M2280.1 1801.3H2775.5M2280.1 1822.1H2775.5M2280.1 1842.9H2775.5M2280.1 1863.8H2775.5"/>
<path class="v" d="M2307.6 1551.3V1884.6M2335.1 1551.3V1884.6M2362.6 1551.3V1884.6M2390.2 1551.3V1884.6M2417.7 1551.3V1884.6M2445.2 1551.3V1884.6M2472.7 1551.3V1884.6M2500.3 1551.3V1884.6M2527.8 1551.3V1884.6M2555.3 1551.3V1884.6M2582.8 1551.3V1884.6M2610.4 1551.3V1884.6M2637.9 1551.3V1884.6M2665.4 1551.3V1884.6M2692.9 1551.3V1884.6M2720.5 1551.3V1884.6M2748 1551.3V1884.6M2775.5 1551.3V1884.6"/>
<path class="y" d="M2280.1 1531.3V1884.6"/>
<path class="a" d="M2279.5 1884.6H2794.9"/>
<path class="t" d="M2280.1 1656.1L2354.3 1633.3"/>
<path class="q" d="M2403.4 1597.6L2415.7 1585.6M2403.4 1656.1L2415.7 1644.1M2632.7 1815.2L2645 1803.2"/>
<polyline class="c" points="2280.1,1564.8 2775.5,1697.5"/>
<polyline class="c" points="2280.1,1623.3 2775.5,1756.1"/>
<polyline class="c" points="2280.1,1649 2517.7,1744.1 2747.8,1884.6"/>
<text class="l" x="2295.6" y="1530.1" dx="0 4.2 0.5 2">M(KN</text>
<path class="d" d="M2344.2 1525h7.5"/>
<text class="l" x="2352.9" y="1530.1" dx="0 1.4">M)</text>
<text class="l" lengthAdjust="spacingAndGlyphs" x="2239.3" y="1584" textLength="38.8">8000</text>
<text class="l" lengthAdjust="spacingAndGlyphs" x="2239.3" y="1661.1" textLength="38.8">6000</text>
<text class="l" lengthAdjust="spacingAndGlyphs" x="2239.3" y="1737.7" textLength="38.8">4000</text>
<text class="l" lengthAdjust="spacingAndGlyphs" x="2239.3" y="1813.9" textLength="38.8">2000</text>
<text class="l" lengthAdjust="spacingAndGlyphs" x="2277.5" y="1899.5" textLength="9.7">0</text>
<text class="l" lengthAdjust="spacingAndGlyphs" x="2370" y="1899.5" textLength="38.8">1200</text>
<text class="l" lengthAdjust="spacingAndGlyphs" x="2481.1" y="1899.5" textLength="38.8">2400</text>
<text class="l" lengthAdjust="spacingAndGlyphs" x="2589.6" y="1899.5" textLength="38.8">3600</text>
<text class="l" lengthAdjust="spacingAndGlyphs" x="2671.9" y="1899.5" textLength="38.8">4800</text>
<text class="l" lengthAdjust="spacingAndGlyphs" x="2780.2" y="1875" textLength="50">Fa(KN)</text>
<text class="s" x="2358" y="1633" textLength="22.3">8. 8</text>
<text class="s m" x="2422.8" y="1587.9">1</text>
<text class="s m" x="2422" y="1649.6">3</text>
<text class="s m" x="2649.3" y="1799.5">2</text>
<text class="z" x="2399.2" y="1928.1">图</text>
<text class="k" transform="translate(2422.6 1928.1) scale(0.9 1)" textLength="189.7">1–64    2787/2553</text>
</g>
<text class="p" x="158.4" y="1957.9">48</text>
<text class="p" x="2810.4" y="1957.9">49</text>
</svg>
</body></html>
